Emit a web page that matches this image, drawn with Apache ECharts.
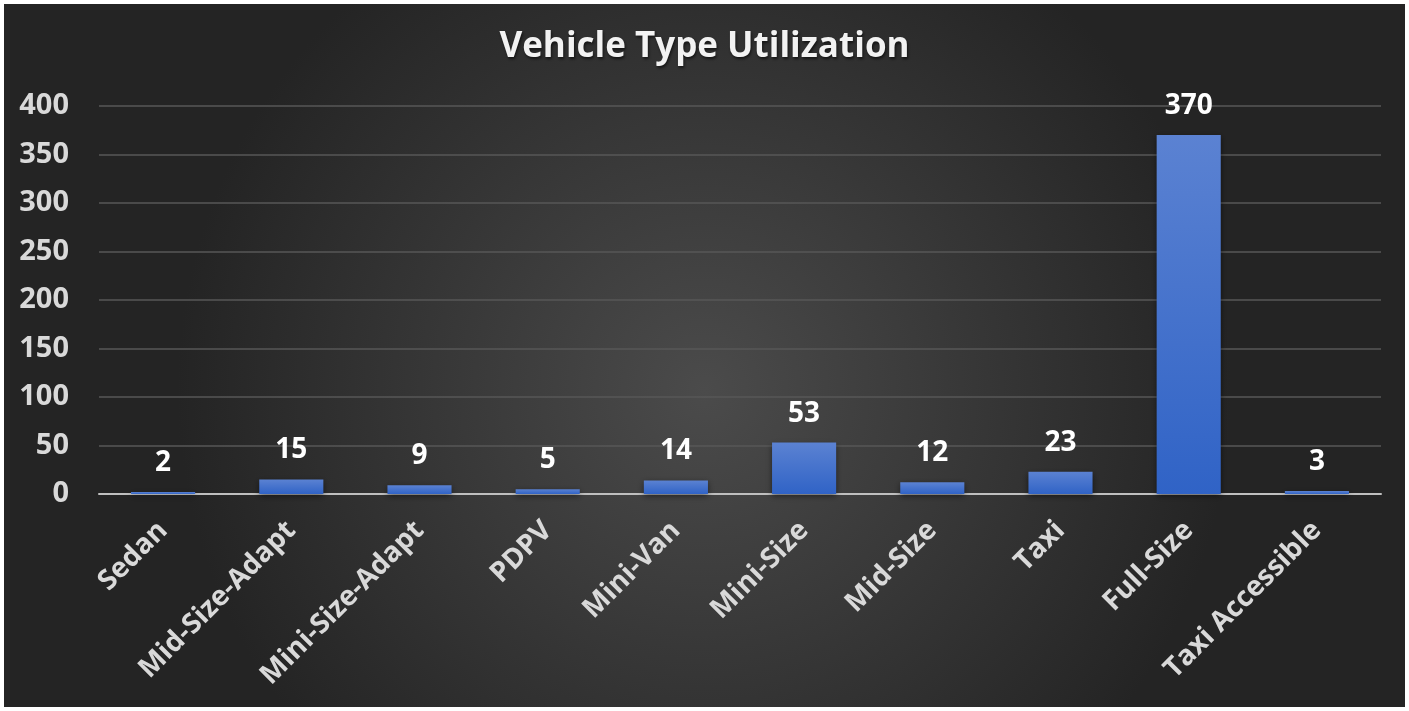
<!DOCTYPE html>
<html>
<head>
<meta charset="utf-8">
<script src="https://cdn.jsdelivr.net/npm/echarts@6/dist/echarts.min.js"></script>
<style>
    html, body { margin: 0; padding: 0; background: #fff; }
    #chart { position: absolute; left: 4px; top: 4px; width: 1401px; height: 703px; }
</style>
</head>
<body>
<div id="chart"></div>
<script>
// 数据
var categories = ['Sedan', 'Mid-Size-Adapt', 'Mini-Size-Adapt', 'PDPV', 'Mini-Van', 'Mini-Size', 'Mid-Size', 'Taxi', 'Full-Size', 'Taxi Accessible'];
var trips = [2, 15, 9, 5, 14, 53, 12, 23, 370, 3];
var yTicks = [0, 50, 100, 150, 200, 250, 300, 350, 400];

var FONT = '"Open Sans", "DejaVu Sans", sans-serif';

function chartRender() {
    var myChart = echarts.init(document.getElementById('chart'));

    var option = {
        // 背景 径向渐变
        backgroundColor: {
            type: 'radial', x: 0.5, y: 0.55, r: 0.75,
            colorStops: [
                { offset: 0, color: '#4b4b4b' },
                { offset: 1, color: '#242424' }
            ]
        },
        title: {
            text: 'Vehicle Type Utilization',
            left: 'center',
            top: 21,
            textStyle: {
                color: '#f2f2f2',
                fontFamily: FONT,
                fontWeight: 'bold',
                fontSize: 35,
                textShadowColor: 'rgba(0,0,0,0.6)',
                textShadowBlur: 3,
                textShadowOffsetX: 1,
                textShadowOffsetY: 2
            }
        },
        grid: {
            left: 95,
            right: 24,
            top: 102,
            bottom: 213
        },
        xAxis: {
            type: 'category',
            data: categories,
            axisTick: { show: false },
            axisLine: { lineStyle: { color: '#bfbfbf', width: 2 } },
            axisLabel: {
                rotate: 45,
                interval: 0,
                margin: 32,
                color: '#d9d9d9',
                fontFamily: FONT,
                fontWeight: 'bold',
                fontSize: 28
            }
        },
        yAxis: {
            type: 'value',
            min: yTicks[0],
            max: yTicks[yTicks.length - 1],
            interval: yTicks[1] - yTicks[0],
            axisLine: { show: false },
            axisTick: { show: false },
            splitLine: { lineStyle: { color: '#575757', width: 1.5 } },
            axisLabel: {
                margin: 30,
                color: '#d9d9d9',
                fontFamily: FONT,
                fontWeight: 'bold',
                fontSize: 29
            }
        },
        series: [{
            type: 'bar',
            data: trips,
            barWidth: '50%',
            itemStyle: {
                color: new echarts.graphic.LinearGradient(0, 0, 0, 1, [
                    { offset: 0, color: '#5b82d2' },
                    { offset: 1, color: '#3063c6' }
                ]),
                shadowColor: 'rgba(0,0,0,0.5)',
                shadowBlur: 6,
                shadowOffsetY: 2
            },
            // 柱状图上方文字
            label: {
                show: true,
                position: 'top',
                distance: 15,
                color: '#ffffff',
                fontFamily: FONT,
                fontWeight: 'bold',
                fontSize: 28
            }
        }]
    };

    myChart.setOption(option);
}
chartRender();
</script>
</body>
</html>
